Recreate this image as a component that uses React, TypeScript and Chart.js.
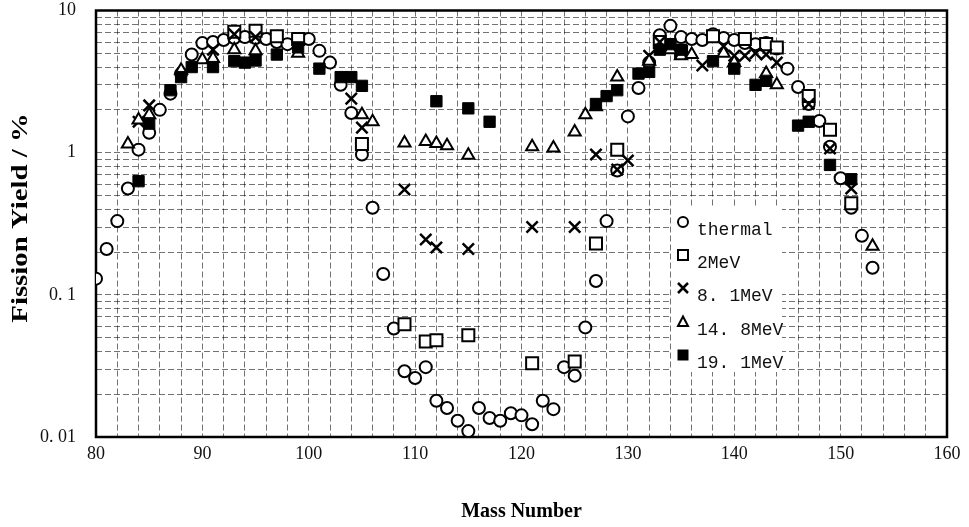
import React, { useEffect, useRef } from 'react';
import { Chart, registerables } from 'chart.js';

Chart.register(...registerables);

// ---- data (mass number vs. fission yield, %) ----
const thermalMass = [80, 81, 82, 83, 84, 85, 86, 87, 88, 89, 90, 91, 92, 93, 94, 95, 96, 97, 98, 99, 100, 101, 102, 103, 104, 105, 106, 107, 108, 109, 110, 111, 112, 113, 114, 115, 116, 117, 118, 119, 120, 121, 122, 123, 124, 125, 126, 127, 128, 129, 130, 131, 132, 133, 134, 135, 136, 137, 138, 139, 140, 141, 142, 143, 144, 145, 146, 147, 148, 149, 150, 151, 152, 153];
const thermalYield = [0.13, 0.21, 0.33, 0.56, 1.05, 1.38, 2.0, 2.6, 3.6, 4.9, 5.9, 6.0, 6.2, 6.4, 6.5, 6.4, 6.3, 6.0, 5.8, 6.2, 6.3, 5.2, 4.3, 3.0, 1.9, 0.97, 0.41, 0.14, 0.058, 0.029, 0.026, 0.031, 0.018, 0.016, 0.013, 0.011, 0.016, 0.0136, 0.013, 0.0147, 0.0142, 0.0123, 0.018, 0.0157, 0.031, 0.027, 0.059, 0.125, 0.33, 0.75, 1.8, 2.85, 4.3, 6.7, 7.8, 6.5, 6.3, 6.2, 6.8, 6.4, 6.2, 5.9, 5.8, 5.9, 5.4, 3.9, 2.9, 2.2, 1.67, 1.1, 0.66, 0.41, 0.26, 0.155];

const mev2Mass = [93, 95, 97, 99, 105, 109, 111, 112, 115, 121, 125, 127, 129, 133, 135, 138, 141, 143, 144, 147, 149, 151];
const mev2Yield = [7.1, 7.2, 6.6, 6.3, 1.15, 0.062, 0.047, 0.048, 0.052, 0.033, 0.034, 0.23, 1.05, 6.0, 5.1, 6.6, 6.3, 5.8, 5.5, 2.5, 1.45, 0.44];

const mev81Mass = [84, 85, 91, 93, 95, 104, 105, 109, 111, 112, 115, 121, 125, 127, 129, 130, 132, 133, 137, 139, 140, 141, 142, 143, 144, 147, 149, 151];
const mev81Yield = [1.65, 2.15, 5.3, 6.8, 6.5, 2.4, 1.5, 0.55, 0.245, 0.215, 0.21, 0.3, 0.3, 0.97, 0.76, 0.88, 4.8, 6.0, 4.1, 5.6, 4.8, 4.8, 5.0, 4.9, 4.3, 2.2, 1.07, 0.56];

const mev148Mass = [83, 84, 85, 88, 90, 91, 93, 95, 99, 105, 106, 109, 111, 112, 113, 115, 121, 123, 125, 126, 127, 129, 132, 134, 135, 136, 139, 140, 143, 144, 153];
const mev148Yield = [1.15, 1.7, 1.85, 3.8, 4.5, 4.6, 5.3, 5.2, 5.0, 1.85, 1.65, 1.17, 1.2, 1.16, 1.12, 0.96, 1.1, 1.08, 1.4, 1.85, 2.1, 3.4, 4.4, 5.3, 4.8, 4.9, 5.0, 4.3, 3.6, 3.0, 0.22];

const mev191Mass = [84, 85, 87, 88, 89, 91, 93, 94, 95, 97, 99, 101, 103, 104, 105, 112, 115, 117, 127, 128, 129, 131, 132, 133, 134, 135, 138, 140, 142, 143, 146, 147, 149, 151];
const mev191Yield = [0.63, 1.6, 2.75, 3.4, 4.0, 4.0, 4.4, 4.3, 4.45, 4.9, 5.5, 3.9, 3.4, 3.4, 2.95, 2.3, 2.05, 1.65, 2.2, 2.5, 2.75, 3.6, 3.7, 5.3, 5.8, 5.3, 4.4, 3.9, 3.0, 3.2, 1.55, 1.65, 0.82, 0.65];

const seriesLabels = ['thermal', '2MeV', '8. 1MeV', '14. 8MeV', '19. 1MeV'];
const xTickLabels = ['80', '90', '100', '110', '120', '130', '140', '150', '160'];
const yTickLabels = ['0. 01', '0. 1', '1', '10'];

const xTitle = 'Mass Number';
const yTitle = 'Fission Yield / %';

const pts = (m: number[], y: number[]) => m.map((x, i) => ({ x, y: y[i] }));

type Shape = 'circle' | 'square' | 'cross' | 'triangle' | 'filled';
const legendShapes: Shape[] = ['circle', 'square', 'cross', 'triangle', 'filled'];

function drawMarker(ctx: CanvasRenderingContext2D, shape: Shape, x: number, y: number) {
  ctx.save();
  ctx.strokeStyle = '#000';
  ctx.fillStyle = '#fff';
  ctx.lineWidth = 2;
  ctx.beginPath();
  if (shape === 'circle') {
    ctx.arc(x, y, 5, 0, Math.PI * 2);
    ctx.fill();
    ctx.stroke();
  } else if (shape === 'square') {
    ctx.rect(x - 5, y - 5, 10, 10);
    ctx.fill();
    ctx.stroke();
  } else if (shape === 'cross') {
    ctx.lineWidth = 2.5;
    ctx.moveTo(x - 5, y - 5);
    ctx.lineTo(x + 5, y + 5);
    ctx.moveTo(x + 5, y - 5);
    ctx.lineTo(x - 5, y + 5);
    ctx.stroke();
  } else if (shape === 'triangle') {
    ctx.moveTo(x, y - 5.5);
    ctx.lineTo(x + 5, y + 4);
    ctx.lineTo(x - 5, y + 4);
    ctx.closePath();
    ctx.fill();
    ctx.stroke();
  } else {
    ctx.fillStyle = '#000';
    ctx.rect(x - 5.5, y - 5.5, 11, 11);
    ctx.fill();
  }
  ctx.restore();
}

const decorPlugin = {
  id: 'decor',
  beforeDatasetsDraw(chart: any) {
    const { ctx, chartArea } = chart;
    const { left, top, right, bottom } = chartArea;
    // legend box
    ctx.save();
    ctx.fillStyle = '#fff';
    ctx.fillRect(672, 208, 110, 164);
    const ys = [222, 255, 288, 322, 355];
    ctx.fillStyle = '#111';
    ctx.font = '18px "Liberation Mono"';
    ctx.textBaseline = 'middle';
    ctx.textAlign = 'left';
    seriesLabels.forEach((lab, i) => {
      drawMarker(ctx, legendShapes[i], 683, ys[i]);
      ctx.fillText(lab, 697, ys[i] + 8);
    });
    // frame
    ctx.strokeStyle = '#000';
    ctx.lineWidth = 2.5;
    ctx.strokeRect(left, top, right - left, bottom - top);
    ctx.restore();
  },
  afterDraw(chart: any) {
    const { ctx, chartArea } = chart;
    ctx.save();
    ctx.fillStyle = '#000';
    ctx.font = 'bold 20px "Liberation Serif"';
    ctx.textAlign = 'center';
    ctx.textBaseline = 'middle';
    ctx.fillText(xTitle, (chartArea.left + chartArea.right) / 2, 512);
    ctx.translate(21, 218);
    ctx.rotate(-Math.PI / 2);
    ctx.font = 'bold 24px "Liberation Serif"';
    ctx.scale(1.2, 1);
    ctx.fillText(yTitle, 0, 0);
    ctx.restore();
  },
};

export default function App() {
  const ref = useRef<HTMLCanvasElement>(null);
  useEffect(() => {
    if (!ref.current) return;
    const open = { borderColor: '#000', backgroundColor: '#fff', borderWidth: 2 };
    const chart = new Chart(ref.current, {
      type: 'scatter',
      data: {
        datasets: [
          { label: seriesLabels[0], data: pts(thermalMass, thermalYield), pointStyle: 'circle', pointRadius: 6, order: 5, ...open },
          { label: seriesLabels[1], data: pts(mev2Mass, mev2Yield), pointStyle: 'rect', pointRadius: 8.5, order: 4, ...open },
          { label: seriesLabels[2], data: pts(mev81Mass, mev81Yield), pointStyle: 'crossRot', pointRadius: 8, order: 3, borderColor: '#000', backgroundColor: '#000', borderWidth: 2.5 },
          { label: seriesLabels[3], data: pts(mev148Mass, mev148Yield), pointStyle: 'triangle', pointRadius: 7, order: 2, ...open },
          { label: seriesLabels[4], data: pts(mev191Mass, mev191Yield), pointStyle: 'rect', pointRadius: 8, order: 1, borderColor: '#000', backgroundColor: '#000', borderWidth: 1 },
        ],
      },
      options: {
        animation: false,
        responsive: false,
        events: [],
        layout: { padding: { top: 8, right: 22, left: 0, bottom: 0 } },
        plugins: { legend: { display: false }, tooltip: { enabled: false } },
        scales: {
          x: {
            type: 'linear',
            min: 80,
            max: 160,
            afterBuildTicks: (scale: any) => {
              const t = [];
              for (let v = 80; v <= 160; v += 2) t.push({ value: v });
              scale.ticks = t;
            },
            afterFit: (scale: any) => {
              scale.height = 90;
              scale.paddingLeft = 0;
              scale.paddingRight = 0;
            },
            ticks: {
              autoSkip: false,
              maxRotation: 0,
              padding: 6,
              color: '#111',
              font: { family: '"Liberation Serif"', size: 18 },
              callback: (v: any) => {
                const s = String(v);
                return xTickLabels.includes(s) ? s : '';
              },
            },
            grid: { color: 'rgba(0,0,0,0.55)', lineWidth: 1, drawTicks: false },
            border: { display: false, dash: [6, 3] },
          },
          y: {
            type: 'logarithmic',
            min: 0.01,
            max: 10,
            afterBuildTicks: (scale: any) => {
              const t = [];
              for (let e = -2; e <= 0; e++) for (let m = 1; m <= 9; m++) t.push({ value: +(m * Math.pow(10, e)).toPrecision(6) });
              t.push({ value: 10 });
              scale.ticks = t;
            },
            afterFit: (scale: any) => {
              scale.width = 96;
              scale.paddingTop = 0;
              scale.paddingBottom = 0;
            },
            ticks: {
              autoSkip: false,
              padding: 20,
              color: '#111',
              font: { family: '"Liberation Serif"', size: 18 },
              callback: (v: any) => {
                const lg = Math.log10(Number(v));
                if (Math.abs(lg - Math.round(lg)) > 1e-9) return '';
                return yTickLabels[Math.round(lg) + 2];
              },
            },
            grid: { color: 'rgba(0,0,0,0.55)', lineWidth: 1, drawTicks: false },
            border: { display: false, dash: [6, 3] },
          },
        },
      },
      plugins: [decorPlugin],
    } as any);
    return () => chart.destroy();
  }, []);
  return (
    <div style={{ position: 'fixed', left: 0, top: 0, width: 969, height: 527, background: '#fff' }}>
      <canvas ref={ref} width={969} height={527} style={{ display: 'block' }} />
    </div>
  );
}
